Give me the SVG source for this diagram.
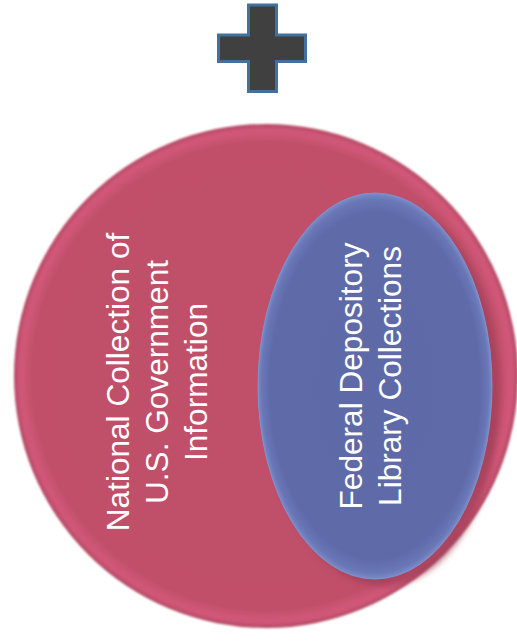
<svg xmlns="http://www.w3.org/2000/svg" width="517" height="641" viewBox="0 0 517 641">
  <defs>
    <radialGradient id="redGrad" cx="0.5" cy="0.5" r="0.5">
      <stop offset="0" stop-color="#c04f6a"/>
      <stop offset="0.93" stop-color="#c1506b"/>
      <stop offset="0.975" stop-color="#d3587a"/>
      <stop offset="1" stop-color="#b24a64"/>
    </radialGradient>
    <radialGradient id="blueGrad" cx="0.5" cy="0.5" r="0.5">
      <stop offset="0" stop-color="#5e69a8"/>
      <stop offset="0.9" stop-color="#5f6aa9"/>
      <stop offset="0.97" stop-color="#6a78b8"/>
      <stop offset="1" stop-color="#7a8cc8"/>
    </radialGradient>
    <filter id="blur" x="-20%" y="-20%" width="140%" height="140%">
      <feGaussianBlur stdDeviation="3"/>
    </filter>
    <filter id="soft" x="-5%" y="-5%" width="110%" height="110%">
      <feGaussianBlur stdDeviation="0.8"/>
    </filter>
  </defs>
  <style>
    .lbl { font-family: "Liberation Sans", Arial, sans-serif; font-size: 31.6px; fill: #ffffff; text-anchor: middle; }
  </style>
  <rect width="517" height="641" fill="#ffffff"/>
  <g id="plus">
    <path d="M248.5,5 H276.5 V35 H305.5 V61.5 H276.5 V91.5 H248.5 V61.5 H218.5 V35 H248.5 Z" fill="#404040" stroke="#41719c" stroke-width="3"/>
  </g>
  <g id="national">
    <circle cx="266" cy="376" r="252" fill="url(#redGrad)" filter="url(#soft)"/>
    <g transform="translate(0,382) rotate(-90)">
      <text class="lbl" x="0" y="129">National Collection of</text>
      <text class="lbl" x="0" y="168">U.S. Government</text>
      <text class="lbl" x="0" y="207">Information</text>
    </g>
  </g>
  <g id="federal">
    <ellipse cx="383" cy="393" rx="117" ry="193" fill="#9e3d57" opacity="0.7" filter="url(#blur)"/>
    <ellipse cx="375" cy="386" rx="117" ry="193" fill="url(#blueGrad)" stroke="#7f93cc" stroke-width="1"/>
    <g transform="translate(0,376) rotate(-90)">
      <text class="lbl" x="0" y="362">Federal Depository</text>
      <text class="lbl" x="0" y="401">Library Collections</text>
    </g>
  </g>
  <g id="connectors"/>
</svg>
